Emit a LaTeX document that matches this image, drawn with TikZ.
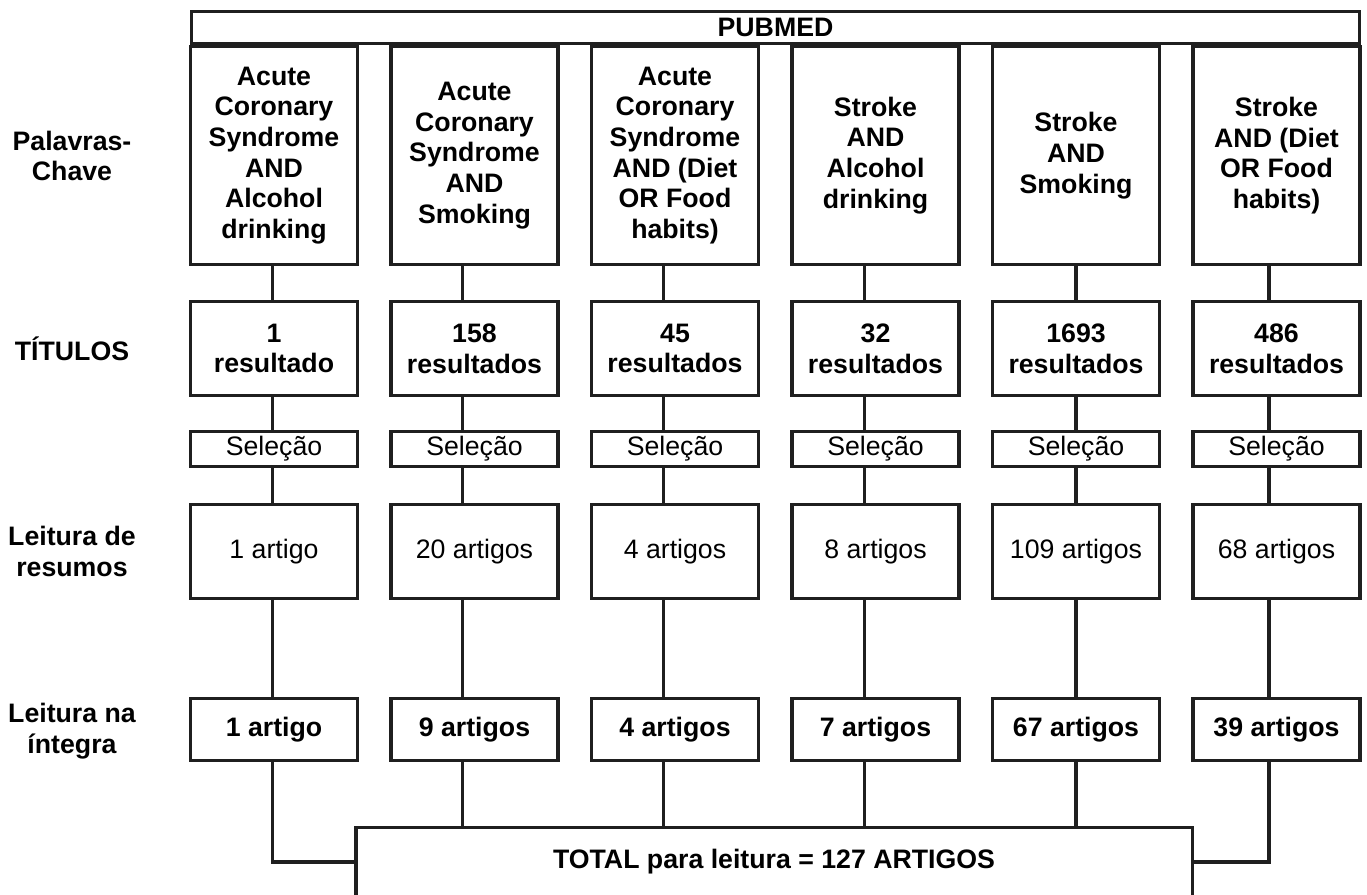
\documentclass[tikz,border=0pt]{standalone}
\usepackage{fontspec}
\setmainfont{Liberation Sans}
\begin{document}
\begin{tikzpicture}[x=1pt,y=-1pt,
    box/.style={draw=black!88, line width=3.5pt, fill=white, align=center,
        inner sep=0pt, minimum width=167pt,
        font=\fontsize{26.7}{30.7}\selectfont},
    bbox/.style={box, font=\fontsize{26.7}{30.7}\selectfont\bfseries},
    rowlabel/.style={align=center, font=\fontsize{26.7}{30.7}\selectfont\bfseries},
    link/.style={draw=black!88, line width=3.5pt}]
    \useasboundingbox (0,0) rectangle (1367,894);
    % row labels
    \node[rowlabel] (lkw) at (72,156) {Palavras-\\Chave};
    \node[rowlabel] (lres) at (72,348.5) {TÍTULOS};
    \node[rowlabel] (labs) at (72,551.5) {Leitura de\\resumos};
    \node[rowlabel] (lfull) at (72,731) {Leitura na\\íntegra};
    % top box
    \node[bbox, minimum width=1168pt, minimum height=32pt] (pub) at (775.5,27.5) {PUBMED};
    % one column per search
    \foreach \i/\dx/\kw/\res/\abs/\full in {
        1/-1.5/{Acute\\Coronary\\Syndrome\\AND\\Alcohol\\drinking}/{1\\resultado}/{1 artigo}/{1 artigo},
        2/-12/{Acute\\Coronary\\Syndrome\\AND\\Smoking}/{158\\resultados}/{20 artigos}/{9 artigos},
        3/-11.5/{Acute\\Coronary\\Syndrome\\AND (Diet\\OR Food\\habits)}/{45\\resultados}/{4 artigos}/{4 artigos},
        4/-11/{Stroke\\AND\\Alcohol\\drinking}/{32\\resultados}/{8 artigos}/{7 artigos},
        5/0/{Stroke\\AND\\Smoking}/{1693\\resultados}/{109 artigos}/{67 artigos},
        6/-7.5/{Stroke\\AND (Diet\\OR Food\\habits)}/{486\\resultados}/{68 artigos}/{39 artigos}}{
        \pgfmathsetmacro\x{274+200.5*(\i-1)}
        \coordinate (c\i) at (\x+\dx,0);
        \node[bbox, minimum height=218pt] (kw\i) at (\x,155.5) {\kw};
        \node[bbox, minimum height=94pt] (res\i) at (\x,348.5) {\res};
        \node[box, minimum height=35pt] (sel\i) at (\x,449) {Seleção};
        \node[box, minimum height=94pt] (abs\i) at (\x,551.5) {\abs};
        \node[bbox, minimum height=62pt] (full\i) at (\x,729.5) {\full};
        \draw[link] (kw\i.south -| c\i) -- (res\i.north -| c\i);
        \draw[link] (res\i.south -| c\i) -- (sel\i.north -| c\i);
        \draw[link] (sel\i.south -| c\i) -- (abs\i.north -| c\i);
        \draw[link] (abs\i.south -| c\i) -- (full\i.north -| c\i);
    }
    % total, open at the bottom
    \node[bbox, draw=none, fill=none, minimum width=833pt, minimum height=66pt] (total) at (774,862)
        {TOTAL para leitura = 127 ARTIGOS};
    \draw[link] (total.south west) -- (total.north west) -- (total.north east) -- (total.south east);
    \foreach \i in {2,...,5}
        \draw[link] (full\i.south -| c\i) -- (total.north -| c\i);
    \draw[link] (full1.south -| c1) |- (total.west);
    \draw[link] (full6.south -| c6) |- (total.east);
\end{tikzpicture}
\end{document}
